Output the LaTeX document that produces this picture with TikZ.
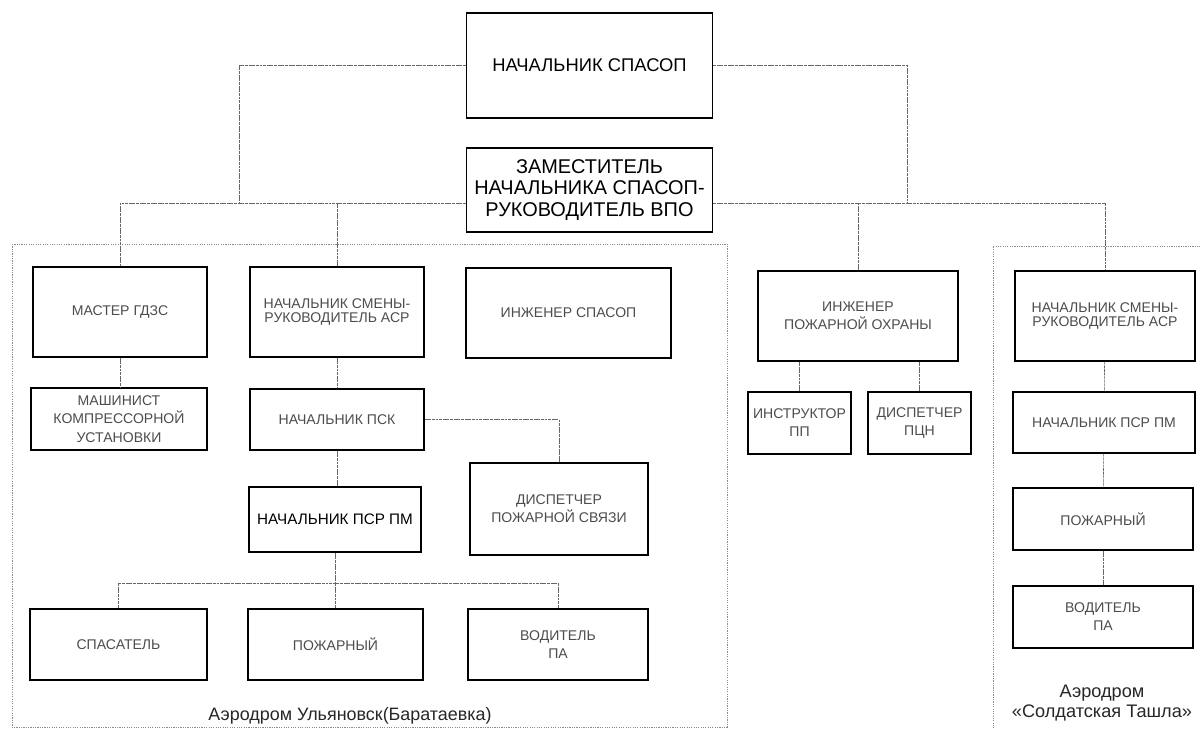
\documentclass[tikz,border=0pt]{standalone}
\usepackage{fontspec}
\setmainfont{Liberation Sans}
\usetikzlibrary{positioning}
\tikzstyle{post} = [rectangle, draw=black, line width=1.1pt, align=center, text=black!70, font=\fontsize{12}{15.5}\selectfont]
\tikzstyle{shiftpost} = [post, font=\fontsize{12}{12.5}\selectfont]
\tikzstyle{headpost} = [post, text=black, font=\fontsize{17}{18.4}\selectfont]
\tikzstyle{link} = [draw=black!60, line width=0.5pt, dash pattern=on 2.5pt off 0.6pt]
\tikzstyle{zone} = [draw=black!45, line width=0.5pt, dash pattern=on 1pt off 1pt]
\tikzstyle{place} = [align=center, text=black!85, font=\fontsize{15.5}{16.5}\selectfont]

\begin{document}
\begin{tikzpicture}[x=0.03cm, y=-0.03cm]
    \useasboundingbox (0,0) rectangle (1200,729);

    % chiefs
    \node (chief) [headpost, font=\fontsize{15.7}{18}\selectfont, minimum width=7.38cm, minimum height=3.15cm] at (589.5,65.5) {НАЧАЛЬНИК СПАСОП};
    \node (deputy) [headpost, minimum width=7.38cm, minimum height=2.52cm] at (589.5,190) {ЗАМЕСТИТЕЛЬ\\НАЧАЛЬНИКА СПАСОП-\\РУКОВОДИТЕЛЬ ВПО};

    % Ульяновск
    \node (master) [post, minimum width=5.22cm, minimum height=2.7cm] at (120,312) {МАСТЕР ГДЗС};
    \node (machinist) [post, minimum width=5.28cm, minimum height=1.86cm] at (119,419) {МАШИНИСТ\\КОМПРЕССОРНОЙ\\УСТАНОВКИ};
    \node (smena) [shiftpost, minimum width=5.22cm, minimum height=2.7cm] at (337,312) {НАЧАЛЬНИК СМЕНЫ-\\РУКОВОДИТЕЛЬ АСР};
    \node (engineer) [post, minimum width=6.15cm, minimum height=2.7cm] at (568.5,313) {ИНЖЕНЕР СПАСОП};
    \node (psk) [post, minimum width=5.22cm, minimum height=1.83cm] at (337,419.5) {НАЧАЛЬНИК ПСК};
    \node (dispfire) [post, minimum width=5.34cm, minimum height=2.76cm] at (559,509) {ДИСПЕТЧЕР\\ПОЖАРНОЙ СВЯЗИ};
    \node (psrpm) [post, line width=1.4pt, text=black, font=\fontsize{13}{15}\selectfont, minimum width=5.16cm, minimum height=1.95cm] at (335,519.5) {НАЧАЛЬНИК ПСР ПМ};
    \node (rescuer) [post, minimum width=5.31cm, minimum height=2.13cm] at (118.5,644.5) {СПАСАТЕЛЬ};
    \node (fireman) [post, minimum width=5.25cm, minimum height=2.13cm] at (335.5,644.5) {ПОЖАРНЫЙ};
    \node (driver) [post, minimum width=5.4cm, minimum height=2.13cm] at (558,644.5) {ВОДИТЕЛЬ\\ПА};
    \node (ulplace) [place, font=\fontsize{15.3}{16.5}\selectfont] at (350,716) {Аэродром Ульяновск(Баратаевка)};

    % fire safety
    \node (fireeng) [post, minimum width=6cm, minimum height=2.7cm] at (858,316) {ИНЖЕНЕР\\ПОЖАРНОЙ ОХРАНЫ};
    \node (instr) [post, minimum width=3.09cm, minimum height=1.86cm] at (799.5,423) {ИНСТРУКТОР\\ПП};
    \node (disppcn) [post, minimum width=3.09cm, minimum height=1.86cm] at (919.5,423) {ДИСПЕТЧЕР\\ПЦН};

    % Солдатская Ташла
    \node (rsmena) [shiftpost, minimum width=5.4cm, minimum height=2.7cm] at (1105,316) {НАЧАЛЬНИК СМЕНЫ-\\РУКОВОДИТЕЛЬ АСР};
    \node (rpsrpm) [post, minimum width=5.46cm, minimum height=1.83cm] at (1104,422.5) {НАЧАЛЬНИК ПСР ПМ};
    \node (rfireman) [post, minimum width=5.4cm, minimum height=1.86cm] at (1103,519) {ПОЖАРНЫЙ};
    \node (rdriver) [post, minimum width=5.4cm, minimum height=1.86cm] at (1103,617) {ВОДИТЕЛЬ\\ПА};
    \node (stplace) [place] at (1102,703) {Аэродром\\«Солдатская Ташла»};

    % zones
    \draw [zone] (12,244) rectangle (727,727);
    \draw [zone] (1210,246) -- (993,246) -- (993,740);

    \coordinate (jl) at (239,203);
    \coordinate (jr) at (907,203);
    \coordinate (jb) at (337,583);

    \draw [link] (chief.west) -| (jl);
    \draw [link] (chief.east) -| (jr);
    \draw [link] (deputy.west |- jl) -| (master.north);
    \draw [link] (smena.north) -- (smena.north |- jl);
    \draw [link] (deputy.east |- jr) -| (rsmena.north);
    \draw [link] (fireeng.north) -- (fireeng.north |- jr);

    \draw [link] (master.south) -- (master.south |- machinist.north);
    \draw [link] (smena) -- (psk);
    \draw [link] (psk.east) -| (dispfire.north);
    \draw [link] (psk.south) -- (psk.south |- psrpm.north);
    \draw [link] (psrpm.south) -- (psrpm.south |- jb);
    \draw [link] (rescuer.north |- jb) -- (driver.north |- jb);
    \draw [link] (rescuer.north |- jb) -- (rescuer.north);
    \draw [link] (fireman.north |- jb) -- (fireman.north);
    \draw [link] (driver.north |- jb) -- (driver.north);

    \draw [link] (instr.north) -- (instr.north |- fireeng.south);
    \draw [link] (disppcn.north) -- (disppcn.north |- fireeng.south);

    \draw [link] (rsmena) -- (rpsrpm);
    \draw [link] (rpsrpm) -- (rfireman);
    \draw [link] (rfireman) -- (rdriver);
\end{tikzpicture}
\end{document}
